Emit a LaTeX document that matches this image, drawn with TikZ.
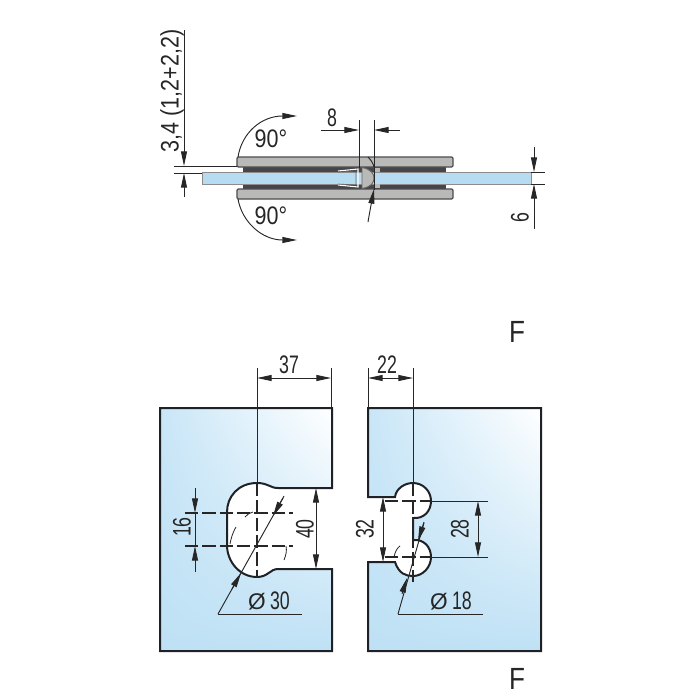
\documentclass[tikz,border=0pt]{standalone}
\usepackage{fontspec}
\setmainfont[FakeStretch=0.7]{Liberation Sans}
\newfontfamily\sidefont[FakeStretch=0.85]{Liberation Sans}
\newfontfamily\diafont{Liberation Sans}
\usetikzlibrary{arrows.meta, shadings}

\definecolor{glassblue}{HTML}{B7DCF2}
\definecolor{platelow}{HTML}{BFE1F5}
\definecolor{platehigh}{HTML}{C9E6F7}
\definecolor{plategray}{HTML}{B9B9B7}
\definecolor{padgray}{HTML}{45454A}
\definecolor{linedark}{HTML}{1E2226}

\begin{document}
\begin{tikzpicture}[
    x=0.75pt, y=-0.75pt,
    plate/.style={draw=linedark, line width=1.5pt},
    plateshade/.style={shading=bilinear interpolation, lower left=platelow, upper left=platehigh, upper right=white, lower right=platelow},
    clampbar/.style={draw=black!70, fill=plategray, line width=0.9pt, rounded corners=1pt},
    pad/.style={fill=padgray, draw=none},
    glass/.style={draw=black!45, fill=glassblue, line width=0.6pt},
    dimline/.style={draw=black!85, line width=0.7pt},
    centerline/.style={draw=black!85, line width=0.8pt, dash pattern=on 10pt off 3pt},
    arrow/.style={-{Stealth[length=11pt, width=4.5pt, inset=0pt]}, draw=black!85, line width=0.7pt},
    dimtext/.style={font=\fontsize{19}{19}\selectfont, inner sep=0pt, text=black!85},
    sidetext/.style={font=\sidefont\fontsize{19}{19}\selectfont, inner sep=0pt, text=black!85},
    bigtext/.style={font=\sidefont\fontsize{23}{23}\selectfont, inner sep=0pt, text=black!85}
]
\useasboundingbox (0,0) rectangle (700,700);

% side view
\fill[pad] (243,167) rectangle (446,172);
\fill[pad] (243,184) rectangle (446,189);
\draw[clampbar] (237,157) rectangle (453,167);
\draw[clampbar] (237,189) rectangle (453,199);
\draw[glass] (202,172) rectangle (531,184);
\draw[draw=black!60, fill=plategray, line width=0.7pt] (362,167.5) .. controls (371,169) and (374,174) .. (374,178) .. controls (374,183) and (371,187) .. (362,188.5) -- cycle;
\draw[white, line width=0.8pt] (338,171) -- (358,169) -- (358,187) -- (338,185);
\draw[black!60, line width=0.5pt] (338,172) -- (356,171) -- (356,185) -- (338,184);
\fill[plategray] (375,168) rectangle (380,172);
\fill[plategray] (375,184) rectangle (380,188);

\draw[dimline] (359,120) -- (359,168);
\draw[dimline] (374,120) -- (374,190);
\draw[arrow] (321,130) -- (359,130);
\draw[arrow] (400,130) -- (374,130);
\node[dimtext] (side8) at (332,118) {8};

\draw[arrow] (238,157) .. controls (242,132) and (262,116) .. (297,116);
\draw[arrow] (238,199) .. controls (242,222) and (262,240) .. (297,240);
\node[sidetext] (ang90a) at (271,139) {90°};
\node[sidetext] (ang90b) at (271,216) {90°};

\draw[dimline] (174,166) -- (237,166);
\draw[dimline] (174,173) -- (202,173);
\draw[arrow] (184,30) -- (184,166);
\draw[arrow] (184,197) -- (184,173);
\node[sidetext, rotate=90] (gap34) at (172,91) {3,4 (1,2+2,2)};

\draw[dimline] (531,172) -- (545,172);
\draw[dimline] (531,184) -- (545,184);
\draw[arrow] (534,147) -- (534,172);
\draw[arrow] (534,229) -- (534,184);
\node[dimtext, rotate=90] (thick6) at (520,218) {6};

\draw[arrow] (368,222) .. controls (370,210) and (372,200) .. (374,189);
\draw[dimline] (368,157) .. controls (371,160) and (373,163) .. (374,167);

% left plate
\shade[plateshade] (160,408) rectangle (332,651);
\path[fill=white] (333,488) -- (278,488)
  .. controls (270,488) and (268,483) .. (257,483)
  .. controls (238,483) and (227,497) .. (227,512)
  -- (227,545)
  .. controls (227,562) and (240,577) .. (257,577)
  .. controls (268,577) and (270,569) .. (278,569)
  -- (333,569) -- cycle;
\draw[plate] (160,408) -- (332,408) -- (332,488) -- (278,488)
  .. controls (270,488) and (268,483) .. (257,483)
  .. controls (238,483) and (227,497) .. (227,512)
  -- (227,545)
  .. controls (227,562) and (240,577) .. (257,577)
  .. controls (268,577) and (270,569) .. (278,569)
  -- (332,569) -- (332,651) -- (160,651) -- cycle;

\draw[dimline] (257,368) -- (257,483);
\draw[dimline] (331,368) -- (331,408);
\draw[arrow] (289,378) -- (257,378);
\draw[arrow] (289,378) -- (331,378);
\node[dimtext] (w37) at (289,365) {37};

\draw[centerline] (257,483) -- (257,578);
\draw[centerline] (185,513) -- (293,513);
\draw[centerline] (185,546) -- (293,546);
\draw[arrow] (195,488) -- (195,513);
\draw[arrow] (195,572) -- (195,546);
\draw[dimline] (195,513) -- (195,546);
\node[dimtext, rotate=90] (h16) at (182,527) {16};

\draw[arrow] (316,529) -- (316,488);
\draw[arrow] (316,529) -- (316,569);
\node[dimtext, rotate=90] (h40) at (305,529) {40};

\draw[dimline] (218,614) -- (302,614);
\draw[dimline] (218,614) -- (283,498);
\draw[arrow] (232,589) -- (241,573);
\draw[arrow] (284,496) -- (273,516);
\draw[black!85, line width=0.6pt] (245,517) .. controls (247,514) and (250,513) .. (253,512);
\draw[black!85, line width=0.6pt] (230,544) .. controls (231,539) and (232,534) .. (236,527);
\draw[black!85, line width=0.6pt] (284,560) .. controls (286,555) and (287,551) .. (286,546);
\node[dimtext] (dia30) at (269,601) {{\diafont\fontsize{17}{17}\selectfont Ø}\,30};

% right plate
\shade[plateshade] (368,408) rectangle (541,651);
\path[fill=white] (367,562) -- (395,562)
  .. controls (399,574) and (406,576) .. (413,576)
  .. controls (423,576) and (431,567) .. (431,557)
  .. controls (431,547) and (424,539) .. (413,540)
  -- (413,518)
  .. controls (424,519) and (431,511) .. (431,501)
  .. controls (431,491) and (423,483) .. (413,483)
  .. controls (404,483) and (396,489) .. (395,497)
  -- (367,497) -- cycle;
\draw[plate] (368,408) -- (541,408) -- (541,651) -- (368,651) -- (368,562) -- (395,562)
  .. controls (399,574) and (406,576) .. (413,576)
  .. controls (423,576) and (431,567) .. (431,557)
  .. controls (431,547) and (424,539) .. (413,540)
  -- (413,518)
  .. controls (424,519) and (431,511) .. (431,501)
  .. controls (431,491) and (423,483) .. (413,483)
  .. controls (404,483) and (396,489) .. (395,497)
  -- (368,497) -- cycle;

\draw[dimline] (368,368) -- (368,408);
\draw[dimline] (413,368) -- (413,483);
\draw[arrow] (390,378) -- (368,378);
\draw[arrow] (390,378) -- (413,378);
\node[dimtext] (w22) at (387,365) {22};

\draw[centerline] (413,483) -- (413,582);
\draw[centerline] (385,501) -- (431,501);
\draw[centerline] (385,557) -- (431,557);
\draw[dimline] (431,501) -- (488,501);
\draw[dimline] (431,557) -- (488,557);
\draw[arrow] (478,529) -- (478,501);
\draw[arrow] (478,529) -- (478,557);
\node[dimtext, rotate=90] (h28) at (460,529) {28};

\draw[arrow] (383,529) -- (383,497);
\draw[arrow] (383,529) -- (383,562);
\node[dimtext, rotate=90] (h32) at (365,529) {32};

\draw[dimline] (398,614) -- (483,614);
\draw[dimline] (398,614) -- (424,523);
\draw[arrow] (402,594) -- (407,578);
\draw[arrow] (424,522) -- (418,541);
\draw[black!85, line width=0.6pt] (394,557) .. controls (395,552) and (397,548) .. (400,546);
\node[dimtext] (dia18) at (451,601) {{\diafont\fontsize{17}{17}\selectfont Ø}\,18};

\node[bigtext] (secTop) at (517,332) {F};
\node[bigtext] (secBot) at (517,679) {F};

\end{tikzpicture}
\end{document}
